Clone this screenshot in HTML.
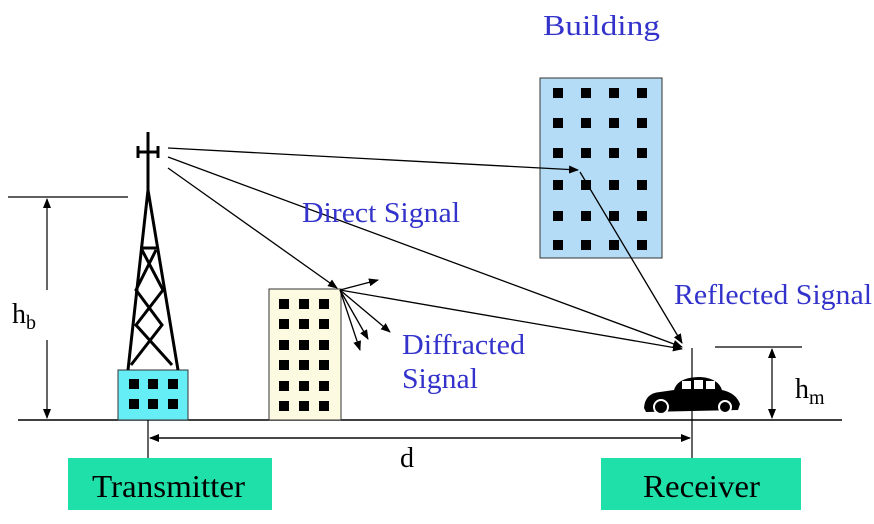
<!DOCTYPE html>
<html><head><style>body{margin:0;background:#fff}svg{display:block}</style></head><body>
<svg width="874" height="524" viewBox="0 0 874 524" font-family="Liberation Serif, serif">
<defs><marker id="a" markerWidth="10" markerHeight="8" refX="9" refY="4" orient="auto" markerUnits="userSpaceOnUse"><path d="M0,0L10,4L0,8z" fill="#000"/></marker></defs>
<line x1="18" y1="420" x2="842" y2="420" stroke="#000" stroke-width="1.5"/>
<rect x="540" y="78" width="122" height="180" fill="#b4dcf6" stroke="#333"/>
<g fill="#000">
<g id="r"><rect x="553" y="88" width="10" height="10"/><rect x="581" y="88" width="10" height="10"/><rect x="609" y="88" width="10" height="10"/><rect x="637" y="88" width="10" height="10"/></g>
<use href="#r" y="30"/><use href="#r" y="60"/><use href="#r" y="92"/><use href="#r" y="123"/><use href="#r" y="152"/>
</g>
<rect x="269" y="289" width="72" height="131" fill="#fcfae0" stroke="#333"/>
<g fill="#000"><g id="s"><rect x="279" y="299" width="10" height="10"/><rect x="299" y="299" width="10" height="10"/><rect x="319" y="299" width="10" height="10"/></g>
<use href="#s" y="20"/><use href="#s" y="41"/><use href="#s" y="61"/><use href="#s" y="82"/><use href="#s" y="102"/></g>
<rect x="118" y="370" width="70" height="50" fill="#66eef6" stroke="#333"/>
<g fill="#000"><rect x="129" y="379" width="10" height="10"/><rect x="148" y="379" width="10" height="10"/><rect x="168" y="379" width="10" height="10"/><rect x="129" y="399" width="10" height="10"/><rect x="148" y="399" width="10" height="10"/><rect x="168" y="399" width="10" height="10"/></g>
<g stroke="#000" stroke-width="3" fill="none">
<path d="M128,370L148,190L178,370"/><line x1="148" y1="132" x2="148" y2="190"/>
<path d="M142,250L163,290L136,325L172,365M156,250L136,290L162,325L131,365M140,248L157,248"/>
<path d="M138,152H158M138,146V158M158,146V158"/>
</g>
<g stroke="#000" stroke-width="1.3" fill="none">
<line x1="168" y1="148" x2="578" y2="170" marker-end="url(#a)"/>
<line x1="580" y1="172" x2="682" y2="343" marker-end="url(#a)"/>
<line x1="168" y1="157" x2="682" y2="347" marker-end="url(#a)"/>
<line x1="168" y1="168" x2="337" y2="288" marker-end="url(#a)"/>
<line x1="340" y1="290" x2="682" y2="349" marker-end="url(#a)"/>
<line x1="340" y1="290" x2="378" y2="280" marker-end="url(#a)"/>
<line x1="340" y1="290" x2="368" y2="339" marker-end="url(#a)"/>
<line x1="340" y1="290" x2="390" y2="332" marker-end="url(#a)"/>
<line x1="340" y1="290" x2="360" y2="350" marker-end="url(#a)"/>
</g>
<g stroke="#000" stroke-width="1.2">
<line x1="8" y1="197" x2="128" y2="197"/>
<line x1="47" y1="290" x2="47" y2="199" marker-end="url(#a)"/>
<line x1="47" y1="340" x2="47" y2="418" marker-end="url(#a)"/>
<line x1="715" y1="347" x2="802" y2="347"/>
<line x1="772" y1="383" x2="772" y2="349" marker-end="url(#a)"/>
<line x1="772" y1="383" x2="772" y2="418" marker-end="url(#a)"/>
<line x1="148" y1="420" x2="148" y2="458"/>
<line x1="692" y1="348" x2="692" y2="458"/>
<line x1="690" y1="438" x2="150" y2="438" marker-end="url(#a)"/>
<line x1="150" y1="438" x2="690" y2="438" marker-end="url(#a)"/>
</g>
<g>
<path d="M644,408 Q645,393 660,392 L674,390 Q678,377 700,377 Q718,378 722,390 Q736,393 740,404 L738,410 L646,412Z" fill="#000"/>
<rect x="682" y="381" width="9" height="8" fill="#fff"/><rect x="694" y="380" width="9" height="9" fill="#fff"/><rect x="706" y="381" width="9" height="8" fill="#fff"/>
<circle cx="661" cy="407" r="7" fill="#000" stroke="#fff" stroke-width="2"/><circle cx="725" cy="407" r="6" fill="#000" stroke="#fff" stroke-width="2"/>
</g>
<g fill="#3333cc" font-size="28">
<text x="543" y="35" textLength="117" lengthAdjust="spacingAndGlyphs">Building</text>
<text x="302" y="222" textLength="158" lengthAdjust="spacingAndGlyphs">Direct Signal</text>
<text x="674" y="304" textLength="198" lengthAdjust="spacingAndGlyphs">Reflected Signal</text>
<text x="402" y="354" textLength="123" lengthAdjust="spacingAndGlyphs">Diffracted</text>
<text x="402" y="388" textLength="76" lengthAdjust="spacingAndGlyphs">Signal</text>
</g>
<text x="12" y="323" font-size="28">h<tspan font-size="20" dy="6">b</tspan></text>
<text x="795" y="398" font-size="28">h<tspan font-size="20" dy="6">m</tspan></text>
<text x="400" y="467" font-size="28">d</text>
<rect x="68" y="458" width="204" height="52" fill="#1ee0a8"/>
<rect x="601" y="458" width="200" height="52" fill="#1ee0a8"/>
<text x="92" y="497" font-size="32" textLength="153" lengthAdjust="spacingAndGlyphs">Transmitter</text>
<text x="643" y="497" font-size="32" textLength="117" lengthAdjust="spacingAndGlyphs">Receiver</text>
</svg>
</body></html>
